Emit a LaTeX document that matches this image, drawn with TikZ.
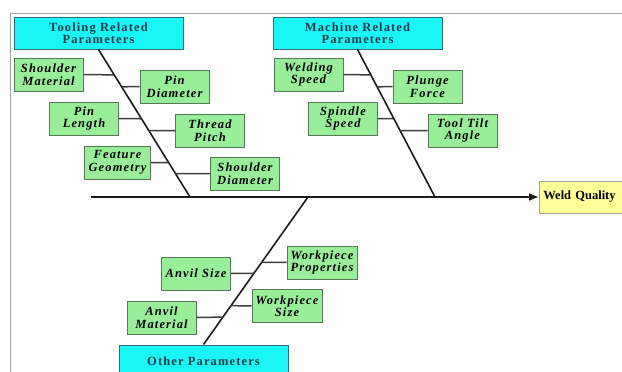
\documentclass[tikz,border=0pt]{standalone}
\usepackage{fontspec}
\setmainfont{Liberation Serif}
\newfontfamily\boxfont[LetterSpace=9]{Liberation Serif}
\usetikzlibrary{calc,arrows.meta}
\definecolor{cyanfill}{HTML}{1AF5F5}
\definecolor{cyanedge}{HTML}{2F6F7A}
\definecolor{cyantext}{HTML}{163F4D}
\definecolor{greenfill}{HTML}{99EE99}
\definecolor{greenedge}{HTML}{557755}
\definecolor{yellowfill}{HTML}{FFFF99}
\definecolor{frame}{HTML}{A0A0A0}
\definecolor{bone}{HTML}{1A1A1A}
\tikzset{
  cause/.style={draw=cyanedge, line width=1pt, fill=cyanfill, minimum width=169pt, minimum height=32pt, inner sep=0pt, align=center, text=cyantext, font=\boxfont\bfseries\fontsize{12.5}{12.5}\selectfont},
  factor/.style={draw=greenedge, line width=1pt, fill=greenfill, minimum width=69pt, minimum height=33pt, inner sep=0pt, align=center, font=\boxfont\bfseries\itshape\fontsize{12.5}{12.5}\selectfont},
  effect/.style={draw=frame, line width=0.8pt, fill=yellowfill, minimum width=100pt, minimum height=32pt, inner sep=0pt, font=\bfseries\fontsize{12.5}{12.5}\selectfont},
  spine/.style={draw=bone, line width=1.6pt},
  branch/.style={draw=bone!85, line width=1.5pt},
}
\begin{document}
\begin{tikzpicture}[x=1pt,y=-1pt]
\useasboundingbox (0,0) rectangle (622,372);
% frame
\draw[frame, line width=0.8pt] (10,372) -- (10,13) -- (622,13);

% main line and effect
\node[effect, anchor=west, text width=100pt] (wq) at (539,197) {\hspace{4pt}Weld Quality};
\coordinate (ms) at (91,197);
\draw[spine, -{Latex[length=10pt,width=8pt]}] (ms) -- (wq.west);

% cause boxes
\node[cause] (tr) at (98.5,33) {Tooling Related\\Parameters};
\node[cause] (mr) at (357.5,33) {Machine Related\\Parameters};
\node[cause] (op) at (203.5,361) {Other Parameters};

% spine ends on main line
\coordinate (tb) at (190,197);
\coordinate (mb) at (435,197);
\coordinate (ob) at (308,197);
\draw[spine] (tr.south) -- (tb);
\draw[spine] (mr.south) -- (mb);
\draw[spine] (op.north) -- (ob);

% tooling factors
\node[factor] (sm) at (48.5,74.5) {Shoulder\\Material};
\node[factor] (pd) at (174.5,86.5) {Pin\\Diameter};
\node[factor] (pl) at (84,118.5) {Pin\\Length};
\node[factor] (tp) at (210,130.5) {Thread\\Pitch};
\node[factor, minimum width=66pt] (fg) at (117.5,162.5) {Feature\\Geometry};
\node[factor] (sd) at (245,173.5) {Shoulder\\Diameter};
\draw[branch] (sm.east) -- ($(tr.south)!0.1723!(tb)$);
\draw[branch] (pd.west) -- ($(tr.south)!0.2534!(tb)$);
\draw[branch] (pl.east) -- ($(tr.south)!0.4696!(tb)$);
\draw[branch] (tp.west) -- ($(tr.south)!0.5507!(tb)$);
\draw[branch] (fg.east) -- ($(tr.south)!0.7669!(tb)$);
\draw[branch] (sd.west) -- ($(tr.south)!0.8412!(tb)$);

% machine factors
\node[factor] (ws) at (308.5,74.5) {Welding\\Speed};
\node[factor] (pf) at (427.5,86.5) {Plunge\\Force};
\node[factor] (ss) at (343,118.5) {Spindle\\Speed};
\node[factor] (tt) at (462.5,130.5) {Tool Tilt\\Angle};
\draw[branch] (ws.east) -- ($(mr.south)!0.1723!(mb)$);
\draw[branch] (pf.west) -- ($(mr.south)!0.2534!(mb)$);
\draw[branch] (ss.east) -- ($(mr.south)!0.4696!(mb)$);
\draw[branch] (tt.west) -- ($(mr.south)!0.5507!(mb)$);

% other factors
\node[factor, minimum width=70pt] (wp) at (322,262.5) {Workpiece\\Properties};
\node[factor] (as) at (196,273.5) {Anvil Size};
\node[factor, minimum width=70pt] (wz) at (287,306) {Workpiece\\Size};
\node[factor] (am) at (161.5,317.5) {Anvil\\Material};
\draw[branch] (wp.west) -- ($(ob)!0.4426!(op.north)$);
\draw[branch] (as.east) -- ($(ob)!0.5169!(op.north)$);
\draw[branch] (wz.west) -- ($(ob)!0.7365!(op.north)$);
\draw[branch] (am.east) -- ($(ob)!0.8142!(op.north)$);
\end{tikzpicture}
\end{document}
